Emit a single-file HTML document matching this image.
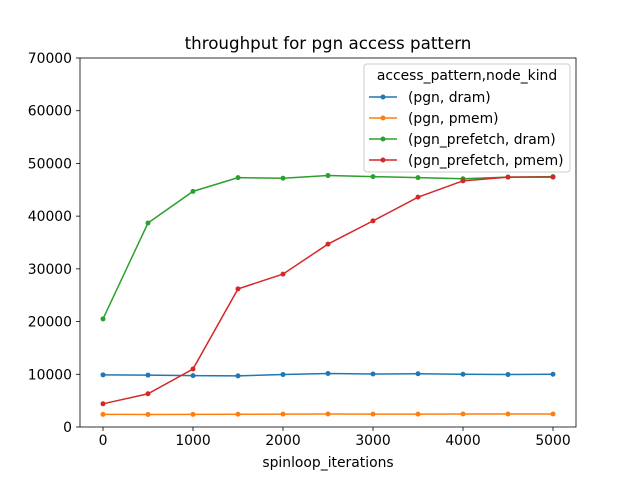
<!DOCTYPE html>
<html><head><meta charset="utf-8"><style>body{margin:0;background:#fff}svg{font-family:"DejaVu Sans","Liberation Sans",sans-serif}</style></head>
<body>
<svg id="c" width="640" height="480" viewBox="0 0 640 480">
<rect width="640" height="480" fill="#fff"/>
<text x="328" y="49" font-size="16.7" text-anchor="middle">throughput for pgn access pattern</text>
<g id="axes"></g>
<g id="plot"></g>
<rect x="80" y="58" width="496" height="369" fill="none" stroke="#000" stroke-width="0.8"/>
<text x="328" y="467" font-size="13.9" text-anchor="middle">spinloop_iterations</text>
<g>
<rect x="364" y="64" width="206" height="108" fill="#fff" fill-opacity="0.8" stroke="#ccc" rx="3"/>
<text x="467" y="80" font-size="13.9" text-anchor="middle">access_pattern,node_kind</text>
<g id="leg"></g>
</g>
</svg>
<script>
const xValues=[0,500,1000,1500,2000,2500,3000,3500,4000,4500,5000];
const seriesNames=["(pgn, dram)","(pgn, pmem)","(pgn_prefetch, dram)","(pgn_prefetch, pmem)"];
const pgnDram=[9900,9850,9750,9700,9950,10150,10050,10100,10000,9950,10000];
const pgnPmem=[2400,2380,2400,2420,2440,2460,2450,2450,2460,2460,2470];
const prefDram=[20500,38700,44700,47300,47200,47700,47500,47300,47100,47400,47500];
const prefPmem=[4400,6300,11000,26200,29000,34700,39100,43600,46700,47400,47400];
const xTicks=[0,1000,2000,3000,4000,5000];
const yTicks=[0,10000,20000,30000,40000,50000,60000,70000];
const colors=["#1f77b4","#ff7f0e","#2ca02c","#d62728"];
const NS="http://www.w3.org/2000/svg";
const xs=v=>103+v*0.09, ys=v=>427-v*369/70000;
function mk(t,a,p){const e=document.createElementNS(NS,t);for(const k in a)e.setAttribute(k,a[k]);p.appendChild(e);return e;}
const ax=document.getElementById('axes');
xTicks.forEach(t=>{
 const l=mk('line',{x1:xs(t),x2:xs(t),y1:427,y2:431,stroke:'#000','stroke-width':0.8},ax);
 
 
 const tx=mk('text',{x:xs(t),y:445,'font-size':13.9,'text-anchor':'middle'},ax);tx.textContent=t;
 
 
});
yTicks.forEach(t=>{
 const l=mk('line',{x1:76,x2:80,y1:ys(t),y2:ys(t),stroke:'#000','stroke-width':0.8},ax);
 
 
 const tx=mk('text',{x:72,y:ys(t)+5,'font-size':13.9,'text-anchor':'end'},ax);tx.textContent=t;
 
 
});
const pl=document.getElementById('plot'),lg=document.getElementById('leg');
[pgnDram,pgnPmem,prefDram,prefPmem].forEach((s,i)=>{
 const p=mk('polyline',{points:s.map((v,j)=>xs(xValues[j])+','+ys(v)).join(' '),fill:'none',stroke:colors[i],'stroke-width':1.5},pl);
 
 
 s.forEach((v,j)=>{const c=mk('circle',{cx:xs(xValues[j]),cy:ys(v),r:2.5,fill:colors[i]},pl);
  
  });
 const y=97+i*21;
 const g=mk('g',{},lg);
 
 
 mk('line',{x1:369,x2:397,y1:y,y2:y,stroke:colors[i],'stroke-width':1.5},g);
 mk('circle',{cx:383,cy:y,r:2.5,fill:colors[i]},g);
 const t=mk('text',{x:408,y:y+5,'font-size':13.9},g);t.textContent=seriesNames[i];
});
</script>
</body></html>
